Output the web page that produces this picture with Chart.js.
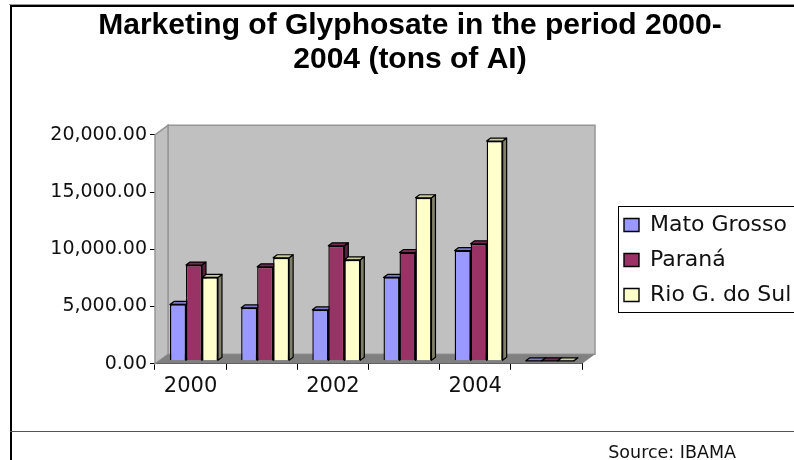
<!DOCTYPE html>
<html><head><meta charset="utf-8">
<style>html,body{margin:0;padding:0;background:#fff;overflow:hidden}canvas{display:block}</style>
<script src="https://cdn.jsdelivr.net/npm/chart.js@4"></script>
</head><body><canvas id="c" width="794" height="460"></canvas>
<script>
const categories = ['2000','2001','2002','2003','2004','2005'];
const tickLabels = ['2000','','2002','','2004',''];
const matoGrosso = [4920,4630,4450,7280,9630,0];
const parana = [8360,8210,10040,9460,10220,0];
const rioGrande = [7280,9000,8820,14240,19190,0];
const titleLines = ['Marketing of Glyphosate in the period 2000-','2004 (tons of AI)'];
const sourceNote = 'Source: IBAMA';
const seriesNames = ['Mato Grosso','Paraná','Rio G. do Sul'];
const fills = ['#9999ff','#993366','#ffffcc'];
const sides = ['#5c5c99','#5c1f3d','#80806a'];
const tops = ['#7a7acc','#7a2952','#cccca3'];
const DX = 3.4, DY = -3, BACKX = 13, BACKY = -9.5, DEPTHX = 4, DEPTHY = -3;
const INK = '#111';

const scene = {
  id:'scene',
  beforeDatasetDraw(){ return false; },
  beforeDatasetsDraw(chart){
    const {ctx, chartArea:a} = chart;
    ctx.save();
    const poly=(pts,f,s,w)=>{ctx.beginPath();pts.forEach((p,i)=>i?ctx.lineTo(p[0],p[1]):ctx.moveTo(p[0],p[1]));ctx.closePath();if(f){ctx.fillStyle=f;ctx.fill();}if(s){ctx.strokeStyle=s;ctx.lineWidth=w||1;ctx.stroke();}};
    const L=a.left,R=a.right,T=a.top,B=a.bottom;
    poly([[L+BACKX,T+BACKY],[R+BACKX,T+BACKY],[R+BACKX,B+BACKY],[L+BACKX,B+BACKY]],'#c0c0c0','#969696',1.5);
    poly([[L,T],[L+BACKX,T+BACKY],[L+BACKX,B+BACKY],[L,B]],'#c0c0c0','#969696',1.5);
    poly([[L,B],[L+BACKX,B+BACKY],[R+BACKX,B+BACKY],[R,B]],'#808080');
    ctx.restore();
  },
  afterDatasetsDraw(chart){
    const ctx=chart.ctx;
    const metas=[0,1,2].map(i=>chart.getDatasetMeta(i));
    metas.forEach((meta,i)=>{
      ctx.save();
      ctx.translate(DX,DY);
      meta.data.forEach(bar=>{
        const l=bar.x-bar.width/2,r=bar.x+bar.width/2,t=bar.y,b=bar.base;
        ctx.strokeStyle='#000';ctx.lineWidth=1.2;ctx.lineJoin='round';
        ctx.beginPath();ctx.moveTo(r,t);ctx.lineTo(r+DEPTHX,t+DEPTHY);ctx.lineTo(r+DEPTHX,b+DEPTHY);ctx.lineTo(r,b);ctx.closePath();ctx.fillStyle=sides[i];ctx.fill();ctx.stroke();
        ctx.beginPath();ctx.moveTo(l,t);ctx.lineTo(l+DEPTHX,t+DEPTHY);ctx.lineTo(r+DEPTHX,t+DEPTHY);ctx.lineTo(r,t);ctx.closePath();ctx.fillStyle=tops[i];ctx.fill();ctx.stroke();
      });
      meta.controller.draw();
      ctx.restore();
    });
  },
  afterLayout(chart){
    const lg=chart.legend;
    const h=lg.bottom-lg.top;
    lg.left=611;lg.right=800;lg.top=260-h/2;lg.bottom=260+h/2;
    const t=chart.titleBlock; t.left=10;t.right=810;
    const sub=chart.boxes.find(b=>b.options&&b.options.text===sourceNote);
    if(sub){sub.left=400;sub.right=736;const sh=sub.bottom-sub.top;sub.top=442.5;sub.bottom=442.5+sh;}
  },
  beforeDraw(chart){
    const {ctx}=chart;
    ctx.save();
    ctx.strokeStyle='#000';ctx.lineWidth=1;
    ctx.strokeRect(618.5,206.5,200,106);
    ctx.fillStyle='#999';ctx.fillRect(9,4,785,1);
    ctx.fillStyle='#000';ctx.fillRect(10,5,784,2);ctx.fillRect(10,5,2,455);
    ctx.fillStyle='#555';ctx.fillRect(10,431,784,1);
    ctx.restore();
  }
};

new Chart(document.getElementById('c'),{
  type:'bar',
  data:{labels:categories,datasets:[
    {label:seriesNames[0],data:matoGrosso,backgroundColor:fills[0]},
    {label:seriesNames[1],data:parana,backgroundColor:fills[1]},
    {label:seriesNames[2],data:rioGrande,backgroundColor:fills[2]}
  ].map(d=>({...d,borderColor:'#000',borderWidth:1.4,categoryPercentage:0.674,barPercentage:1}))},
  plugins:[scene],
  options:{
    responsive:false,animation:false,
    layout:{padding:{left:26,right:211,top:0,bottom:36}},
    font:{family:'"DejaVu Sans"'},
    scales:{
      x:{grid:{drawOnChartArea:false,color:'#000',tickLength:6,drawTicks:true},border:{color:'#000'},
         ticks:{autoSkip:false,maxRotation:0,color:INK,font:{family:'"DejaVu Sans"',size:21},padding:4,callback:(v,i)=>tickLabels[i]}},
      y:{min:0,max:20000,grid:{drawOnChartArea:false,color:'#000',tickLength:5},border:{color:'#000'},
         afterFit(s){s.width=129;},
         ticks:{stepSize:5000,color:INK,font:{family:'"DejaVu Sans"',size:19},padding:3,
           callback:v=>v.toLocaleString('en-US',{minimumFractionDigits:2,maximumFractionDigits:2})}}
    },
    plugins:{
      title:{display:true,text:titleLines,color:'#000',font:{family:'"Liberation Sans"',size:30,weight:'bold',lineHeight:1.13},padding:{top:9,bottom:58}},
      subtitle:{display:true,position:'bottom',align:'end',text:sourceNote,color:INK,font:{family:'"DejaVu Sans"',size:17.5},padding:{top:0,bottom:0}},
      legend:{display:true,position:'right',maxWidth:1,labels:{boxWidth:15,boxHeight:13,padding:13,color:INK,font:{family:'"DejaVu Sans"',size:22}}},
      tooltip:{enabled:false}
    }
  }
});
</script></body></html>
